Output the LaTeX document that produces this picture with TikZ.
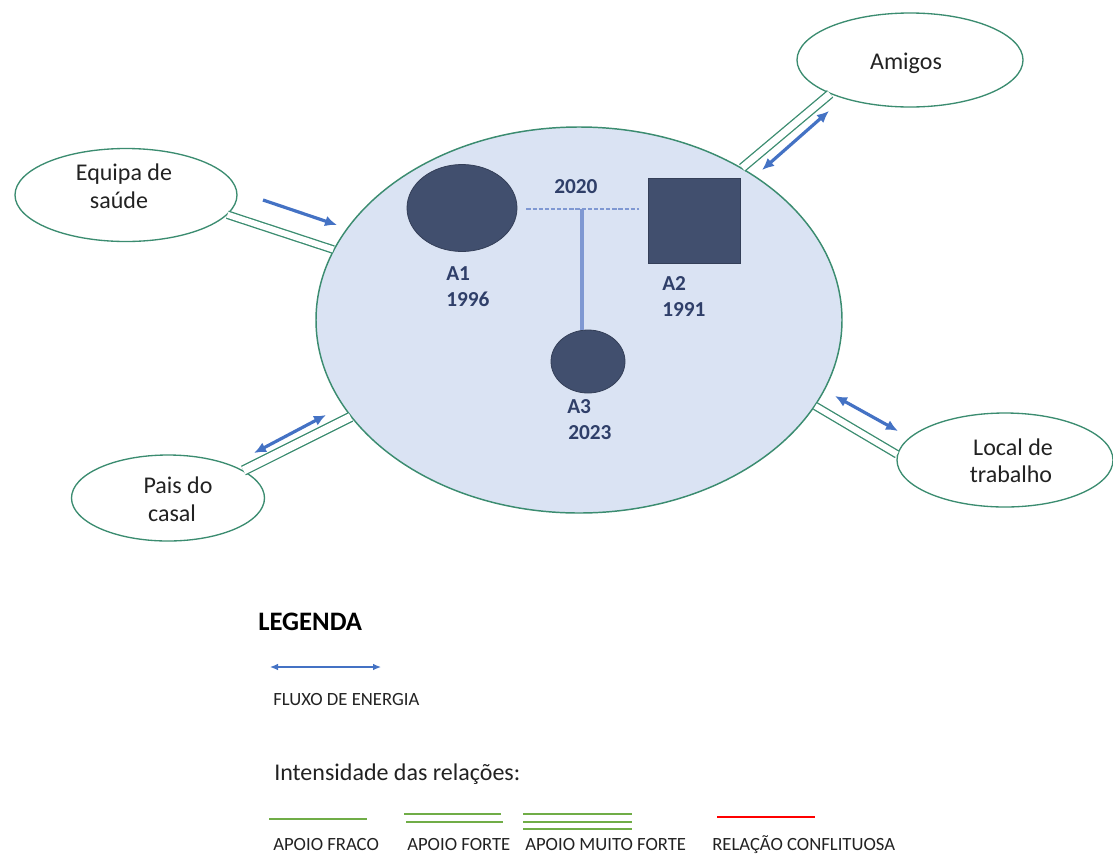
\documentclass[tikz,border=0pt]{standalone}
\usepackage{fontspec}
\setmainfont{Carlito}
\usetikzlibrary{shapes.geometric,arrows.meta}

\definecolor{famfill}{HTML}{DAE3F3}
\definecolor{ringgreen}{HTML}{3B8C70}
\definecolor{persona}{HTML}{414F6E}
\definecolor{flow}{HTML}{4472C4}
\definecolor{tie}{HTML}{7F98D2}
\definecolor{labelblue}{HTML}{2F3F69}
\definecolor{legreen}{HTML}{70AD47}
\definecolor{conflict}{HTML}{FF0000}
\definecolor{ink}{HTML}{222222}

\begin{document}
\begin{tikzpicture}[x=0.75pt,y=-0.75pt,
  outer/.style={ellipse, draw=ringgreen, fill=white, line width=1pt, inner sep=0pt},
  family/.style={ellipse, draw=ringgreen, fill=famfill, line width=1.1pt, inner sep=0pt},
  person/.style={fill=persona, draw=persona!80!black, line width=0.6pt, inner sep=0pt},
  txt/.style={font=\fontsize{18}{21}\selectfont, text=ink, inner sep=0pt, anchor=base},
  pname/.style={font=\fontsize{16}{19}\selectfont\bfseries, text=labelblue, inner sep=0pt, anchor=base west},
  bond/.style={draw=ringgreen, double=white, line width=1pt},
  energy/.style={draw=flow, line width=2.4pt, {Latex[length=9pt,width=8pt]}-{Latex[length=9pt,width=8pt]}},
  energyto/.style={draw=flow, line width=2.4pt, -{Latex[length=9pt,width=8pt]}},
  legtext/.style={font=\fontsize{14}{17}\selectfont, text=ink, inner sep=0pt, anchor=base west},
  legline/.style={draw=legreen, line width=1.5pt}
]
\useasboundingbox (0,0) rectangle (1113,854);

% household
\node[family, minimum width=526*0.75pt, minimum height=386*0.75pt] (fam) at (579,320) {};

% surrounding systems
\node[outer, minimum width=226*0.75pt, minimum height=94*0.75pt] (amigos) at (910,60) {};
\node[outer, minimum width=222*0.75pt, minimum height=93*0.75pt] (equipa) at (126,195) {};
\node[outer, minimum width=193*0.75pt, minimum height=86*0.75pt] (pais) at (168,498) {};
\node[outer, minimum width=216*0.75pt, minimum height=94*0.75pt] (local) at (1005,460) {};

\node[txt] (amigosT) at (906,69) {Amigos};
\node[txt] (equipaT1) at (124,180) {Equipa de};
\node[txt] (equipaT2) at (119,208) {saúde};
\node[txt] (paisT1) at (178,493) {Pais do};
\node[txt] (paisT2) at (172,521) {casal};
\node[txt] (localT1) at (1013,455) {Local de};
\node[txt] (localT2) at (1011,482) {trabalho};

% relationship ties
\draw[bond, double distance=6pt*0.75] (equipa.-11.5) -- (fam.164.5);
\draw[bond, double distance=8pt*0.75] (pais.20.4) -- (fam.203.2);
\draw[bond, double distance=7pt*0.75] (amigos.203.8) -- (fam.43.5);
\draw[bond, double distance=6pt*0.75] (local.177.3) -- (fam.-20.3);

% energy flows
\coordinate (eqA) at (263,200);
\coordinate (eqB) at (337,225);
\coordinate (paA) at (254,453);
\coordinate (paB) at (326,415);
\coordinate (amA) at (762,170);
\coordinate (amB) at (829,111);
\coordinate (loA) at (835,396);
\coordinate (loB) at (898,431);
\draw[energyto] (eqA) -- (eqB);
\draw[energy] (paA) -- (paB);
\draw[energy] (amA) -- (amB);
\draw[energy] (loA) -- (loB);

% genogram
\node[person, ellipse, minimum width=110*0.75pt, minimum height=87*0.75pt] (a1) at (462,208) {};
\node[person, rectangle, minimum width=92*0.75pt, minimum height=85*0.75pt] (a2) at (694,220.5) {};
\node[person, ellipse, minimum width=74*0.75pt, minimum height=63*0.75pt] (a3) at (588,361.5) {};

\coordinate (union) at (582,209);
\draw[draw=tie, line width=2.2pt, dash pattern=on 3.2pt off 1.4pt]
  (a1.east |- union) ++(9,0) -- ([xshift=-9*0.75pt]a2.west |- union);
\draw[draw=tie, line width=2.4pt] (union) -- (union |- a3.north);

\node[pname] (y2020) at (554,193) {2020};
\node[pname] (a1n) at (446,280) {A1};
\node[pname] (a1y) at (446,306) {1996};
\node[pname] (a2n) at (662,290) {A2};
\node[pname] (a2y) at (662,316) {1991};
\node[pname] (a3n) at (567,413) {A3};
\node[pname] (a3y) at (568,439) {2023};

% legend
\node[font=\fontsize{20}{24}\selectfont\bfseries, text=black, inner sep=0pt, anchor=base west] (legtitle) at (258,630) {LEGENDA};

\coordinate (kA) at (270,667);
\coordinate (kB) at (381,667);
\draw[draw=flow, line width=0.9pt, {Latex[length=6pt,width=5pt]}-{Latex[length=6pt,width=5pt]}] (kA) -- (kB);
\node[legtext] (fluxo) at (273,705) {FLUXO DE ENERGIA};

\node[font=\fontsize{18}{21}\selectfont, text=ink, inner sep=0pt, anchor=base west] (intens) at (274,780) {Intensidade das relações:};

\coordinate (f1a) at (269,819); \coordinate (f1b) at (367,819);
\draw[legline] (f1a) -- (f1b);
\coordinate (s1a) at (404,814); \coordinate (s1b) at (501,814);
\coordinate (s2a) at (406,822); \coordinate (s2b) at (503,822);
\draw[legline] (s1a) -- (s1b);
\draw[legline] (s2a) -- (s2b);
\coordinate (m1a) at (523,814); \coordinate (m1b) at (632,814);
\coordinate (m2a) at (523,821.5); \coordinate (m2b) at (632,821.5);
\coordinate (m3a) at (523,829); \coordinate (m3b) at (632,829);
\draw[legline] (m1a) -- (m1b);
\draw[legline] (m2a) -- (m2b);
\draw[legline] (m3a) -- (m3b);
\coordinate (c1a) at (717,817); \coordinate (c1b) at (815,817);
\draw[draw=conflict, line width=2.2pt] (c1a) -- (c1b);

\node[legtext] (fraco) at (273,850) {APOIO FRACO};
\node[legtext] (forte) at (407,850) {APOIO FORTE};
\node[legtext] (muito) at (525,850) {APOIO MUITO FORTE};
\node[legtext] (confl) at (712,850) {RELAÇÃO CONFLITUOSA};
\end{tikzpicture}
\end{document}
